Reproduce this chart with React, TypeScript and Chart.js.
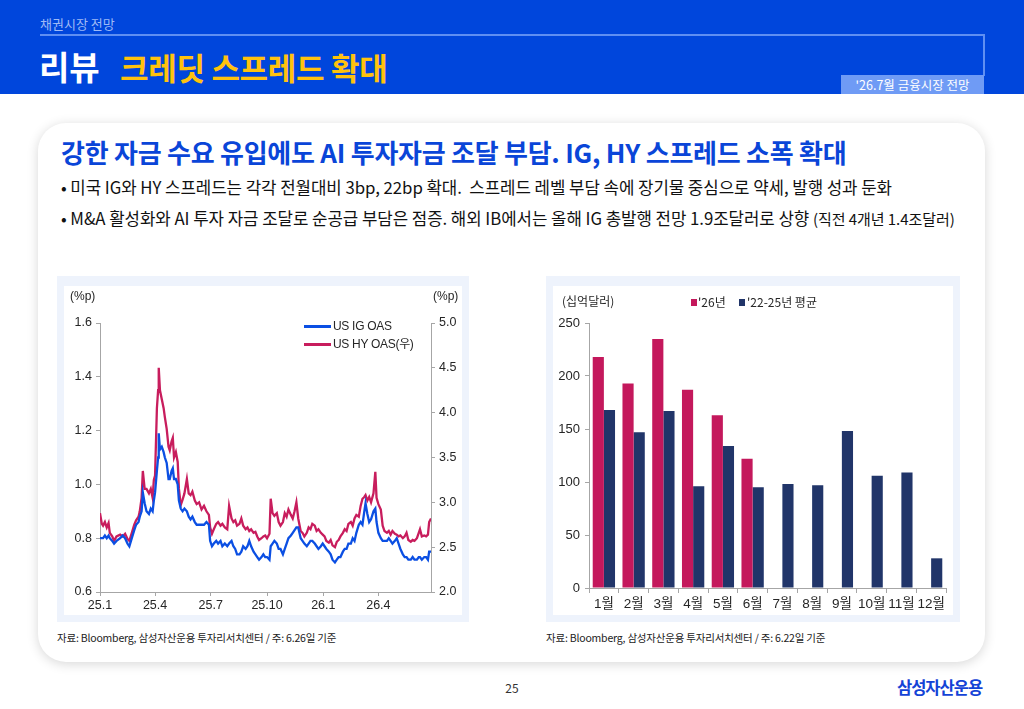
import React, { useEffect, useRef } from "react";
import { Chart, registerables } from "chart.js";

Chart.register(...registerables);

// ---------- Left chart: US IG / HY OAS (days since 2025-01-01) ----------
const SPREAD_DAYS = [
  0, 3, 5, 8, 11, 14, 16, 20, 23, 27,
  33, 37, 41, 45, 48, 52, 56, 59, 63, 65,
  68, 70, 73, 76, 80, 83, 86, 88, 90, 93,
  95, 96, 98, 101, 104, 106, 109, 112, 114, 117,
  119, 121, 124, 127, 129, 132, 135, 138, 142, 145,
  148, 151, 155, 158, 162, 166, 170, 174, 178, 180,
  183, 186, 190, 193, 197, 200, 204, 208, 211, 215,
  218, 221, 224, 228, 231, 234, 238, 241, 244, 247,
  251, 254, 257, 260, 264, 267, 270, 273, 277, 279,
  282, 285, 289, 292, 295, 299, 302, 305, 308, 312,
  315, 318, 321, 324, 328, 331, 334, 338, 341, 344,
  347, 351, 354, 357, 361, 364, 367, 370, 374, 377,
  380, 384, 387, 390, 393, 397, 400, 403, 406, 410,
  413, 416, 419, 423, 426, 429, 432, 434, 437, 440,
  443, 447, 450, 452, 455, 459, 462, 465, 469, 472,
  475, 478, 482, 485, 488, 491, 495, 498, 501, 504,
  508, 511, 514, 518, 521, 523, 526, 530, 533, 536,
  538, 541,
];

const US_IG_OAS = [
  0.80, 0.80, 0.80, 0.81, 0.80, 0.81, 0.80, 0.79, 0.78, 0.79,
  0.80, 0.81, 0.80, 0.78, 0.77, 0.80, 0.83, 0.85, 0.86, 0.88,
  0.90, 0.97, 0.93, 0.90, 0.89, 0.91, 0.90, 0.94, 0.97, 1.05,
  1.10, 1.19, 1.13, 1.14, 1.12, 1.10, 1.08, 1.02, 1.02, 1.05,
  1.06, 1.02, 1.02, 1.00, 0.94, 0.91, 0.90, 0.91, 0.90, 0.88,
  0.87, 0.88, 0.86, 0.85, 0.85, 0.85, 0.85, 0.86, 0.85, 0.79,
  0.77, 0.78, 0.79, 0.78, 0.79, 0.77, 0.78, 0.77, 0.78, 0.79,
  0.77, 0.76, 0.74, 0.74, 0.75, 0.77, 0.76, 0.77, 0.79, 0.77,
  0.75, 0.74, 0.73, 0.72, 0.73, 0.74, 0.73, 0.73, 0.72, 0.77,
  0.78, 0.79, 0.78, 0.76, 0.76, 0.74, 0.76, 0.78, 0.80, 0.81,
  0.82, 0.83, 0.84, 0.84, 0.80, 0.79, 0.78, 0.77, 0.78, 0.79,
  0.79, 0.78, 0.77, 0.76, 0.77, 0.78, 0.77, 0.76, 0.75, 0.74,
  0.72, 0.71, 0.72, 0.73, 0.73, 0.75, 0.76, 0.76, 0.78, 0.78,
  0.80, 0.79, 0.82, 0.85, 0.86, 0.85, 0.90, 0.93, 0.89, 0.86,
  0.87, 0.90, 0.91, 0.86, 0.82, 0.80, 0.79, 0.79, 0.79, 0.80,
  0.79, 0.78, 0.79, 0.80, 0.78, 0.76, 0.74, 0.73, 0.73, 0.72,
  0.72, 0.73, 0.72, 0.72, 0.73, 0.73, 0.72, 0.73, 0.73, 0.72,
  0.75, 0.75,
];

const US_HY_OAS = [
  2.88, 2.76, 2.74, 2.78, 2.72, 2.77, 2.66, 2.62, 2.57, 2.62,
  2.64, 2.62, 2.65, 2.59, 2.57, 2.66, 2.75, 2.80, 2.84, 2.90,
  3.05, 3.35, 3.15, 3.15, 3.10, 3.15, 3.05, 3.25, 3.30, 4.05,
  4.25, 4.50, 4.25, 4.15, 4.05, 3.95, 3.82, 3.62, 3.58, 3.68,
  3.72, 3.50, 3.56, 3.45, 3.15, 2.97, 3.03, 3.10, 3.26, 3.10,
  3.08, 3.12, 3.02, 2.98, 3.00, 2.92, 2.96, 2.90, 2.86, 2.72,
  2.65, 2.70, 2.76, 2.78, 2.74, 2.76, 2.72, 2.70, 2.96, 2.82,
  2.78, 2.80, 2.74, 2.76, 2.82, 2.74, 2.70, 2.72, 2.68, 2.70,
  2.66, 2.67, 2.62, 2.58, 2.60, 2.62, 2.63, 2.60, 2.65, 3.04,
  2.88, 2.85, 2.88, 2.78, 2.74, 2.78, 2.88, 2.84, 2.92, 2.86,
  2.82, 2.90, 3.00, 2.82, 2.68, 2.66, 2.62, 2.66, 2.72, 2.70,
  2.76, 2.74, 2.68, 2.70, 2.66, 2.64, 2.62, 2.57, 2.55, 2.58,
  2.52, 2.50, 2.56, 2.58, 2.62, 2.66, 2.70, 2.68, 2.76, 2.78,
  2.74, 2.82, 2.86, 2.84, 2.96, 3.04, 3.06, 3.08, 3.02, 3.06,
  3.00, 3.10, 3.34, 3.05, 2.98, 2.92, 2.74, 2.68, 2.66, 2.68,
  2.64, 2.68, 2.65, 2.64, 2.62, 2.63, 2.60, 2.62, 2.66, 2.58,
  2.56, 2.58, 2.57, 2.60, 2.66, 2.70, 2.62, 2.63, 2.62, 2.64,
  2.78, 2.82,
];

const SPREAD_TICK_DAYS = [0, 90, 181, 273, 365, 455];
const SPREAD_TICK_LABELS = ["25.1", "25.4", "25.7", "25.10", "26.1", "26.4"];

// ---------- Right chart: IG issuance by month (USD bn) ----------
const MONTHS = ["1월", "2월", "3월", "4월", "5월", "6월", "7월", "8월", "9월", "10월", "11월", "12월"];
const ISSUANCE_2026 = [218, 193, 235, 187, 163, 122, null, null, null, null, null, null];
const ISSUANCE_AVG_22_25 = [168, 147, 167, 96, 134, 95, 98, 97, 148, 106, 109, 28];

const BLUE = "#0b4fe3";
const RED = "#c81d5d";
const BAR_RED = "#c4185c";
const BAR_NAVY = "#213569";
const AXIS = "#a6a6a6";
const TICK_COLOR = "#262626";
const CHART_FONT = "'Liberation Sans', Arial, 'Noto Sans CJK KR', sans-serif";
const KR_FONT = "'Noto Sans CJK KR', 'Noto Sans', sans-serif";

function SpreadChart() {
  const ref = useRef<HTMLCanvasElement | null>(null);
  useEffect(() => {
    if (!ref.current) return;
    const chart = new Chart(ref.current, {
      type: "line",
      data: {
        datasets: [
          {
            label: "US IG OAS",
            data: SPREAD_DAYS.map((d, i) => ({ x: d, y: US_IG_OAS[i] })),
            borderColor: BLUE,
            borderWidth: 2.3,
            pointRadius: 0,
            tension: 0,
            yAxisID: "y",
          },
          {
            label: "US HY OAS(우)",
            data: SPREAD_DAYS.map((d, i) => ({ x: d, y: US_HY_OAS[i] })),
            borderColor: RED,
            borderWidth: 2.3,
            pointRadius: 0,
            tension: 0,
            yAxisID: "y1",
          },
        ],
      },
      options: {
        animation: false,
        responsive: true,
        maintainAspectRatio: false,
        layout: { padding: { top: 37, left: 0, right: 0, bottom: 0 } },
        plugins: { legend: { display: false }, tooltip: { enabled: false } },
        scales: {
          x: {
            type: "linear",
            min: 0,
            max: 541,
            afterBuildTicks: (s: any) => {
              s.ticks = SPREAD_TICK_DAYS.map((v) => ({ value: v }));
            },
            afterFit: (s: any) => {
              s.height = 23;
            },
            ticks: {
              autoSkip: false,
              maxRotation: 0,
              padding: 2,
              color: TICK_COLOR,
              font: { family: CHART_FONT, size: 12.5 },
              callback: (_v: any, i: number) => SPREAD_TICK_LABELS[i],
            },
            grid: { drawOnChartArea: false, drawTicks: true, tickLength: 4, color: AXIS },
            border: { display: true, color: AXIS },
          },
          y: {
            position: "left",
            min: 0.6,
            max: 1.6,
            afterFit: (s: any) => {
              s.width = 36;
            },
            ticks: {
              stepSize: 0.2,
              padding: 4,
              color: TICK_COLOR,
              font: { family: CHART_FONT, size: 12.5 },
              callback: (v: any) => Number(v).toFixed(1),
            },
            grid: { drawOnChartArea: false, drawTicks: true, tickLength: 4, color: AXIS },
            border: { display: true, color: AXIS },
          },
          y1: {
            position: "right",
            min: 2,
            max: 5,
            afterFit: (s: any) => {
              s.width = 31;
            },
            ticks: {
              stepSize: 0.5,
              padding: 4,
              color: TICK_COLOR,
              font: { family: CHART_FONT, size: 12.5 },
              callback: (v: any) => Number(v).toFixed(1),
            },
            grid: { drawOnChartArea: false, drawTicks: true, tickLength: 4, color: AXIS },
            border: { display: true, color: AXIS },
          },
        },
      },
    });
    return () => chart.destroy();
  }, []);
  return <canvas ref={ref} />;
}

function IssuanceChart() {
  const ref = useRef<HTMLCanvasElement | null>(null);
  useEffect(() => {
    if (!ref.current) return;
    const chart = new Chart(ref.current, {
      type: "bar",
      data: {
        labels: MONTHS,
        datasets: [
          {
            label: "'26년",
            data: ISSUANCE_2026,
            backgroundColor: BAR_RED,
            categoryPercentage: 0.75,
            barPercentage: 1.0,
          },
          {
            label: "'22-25년 평균",
            data: ISSUANCE_AVG_22_25,
            backgroundColor: BAR_NAVY,
            categoryPercentage: 0.75,
            barPercentage: 1.0,
          },
        ],
      },
      options: {
        animation: false,
        responsive: true,
        maintainAspectRatio: false,
        layout: { padding: { top: 37, left: 0, right: 7, bottom: 0 } },
        plugins: { legend: { display: false }, tooltip: { enabled: false } },
        scales: {
          x: {
            afterFit: (s: any) => {
              s.height = 27;
            },
            ticks: {
              autoSkip: false,
              maxRotation: 0,
              padding: 3,
              color: TICK_COLOR,
              font: { family: CHART_FONT, size: 13.5 },
            },
            grid: { offset: true, drawOnChartArea: false, drawTicks: true, tickLength: 5, color: AXIS },
            border: { display: true, color: AXIS },
          },
          y: {
            min: 0,
            max: 250,
            afterFit: (s: any) => {
              s.width = 36;
            },
            ticks: {
              stepSize: 50,
              padding: 5,
              color: TICK_COLOR,
              font: { family: CHART_FONT, size: 13 },
            },
            grid: { drawOnChartArea: false, drawTicks: true, tickLength: 4, color: AXIS },
            border: { display: true, color: AXIS },
          },
        },
      },
    });
    return () => chart.destroy();
  }, []);
  return <canvas ref={ref} />;
}

const abs = (left: number, top: number, extra: React.CSSProperties = {}): React.CSSProperties => ({
  position: "absolute",
  left,
  top,
  ...extra,
});

export default function App() {
  return (
    <div
      style={{
        position: "absolute",
        left: 0,
        top: 0,
        width: 1024,
        height: 709,
        overflow: "hidden",
        background: "#ffffff",
        fontFamily: KR_FONT,
      }}
    >
      {/* Header band */}
      <div style={abs(0, 0, { width: 1024, height: 94, background: "#0046dc" })} />
      <div style={abs(40, 14, { fontSize: 13, color: "#9fbaf5", lineHeight: "20px", whiteSpace: "nowrap" })}>
        채권시장 전망
      </div>
      <div style={abs(40, 34, { width: 944, height: 2, background: "#5f8ff2" })} />
      <div style={abs(983, 34, { width: 2, height: 42, background: "#5f8ff2" })} />
      <div
        style={abs(39, 43, {
          fontSize: 33,
          fontWeight: 700,
          color: "#ffffff",
          lineHeight: "46px",
          whiteSpace: "nowrap",
        })}
      >
        리뷰
      </div>
      <div
        style={abs(120, 44, {
          fontSize: 31,
          fontWeight: 700,
          color: "#ffc20e",
          lineHeight: "46px",
          whiteSpace: "nowrap",
          letterSpacing: -0.3,
        })}
      >
        크레딧 스프레드 확대
      </div>
      <div
        style={abs(841, 75, {
          width: 143,
          height: 19,
          background: "#6f9bf5",
          color: "#ffffff",
          fontSize: 12.5,
          lineHeight: "19px",
          textAlign: "center",
          whiteSpace: "nowrap",
        })}
      >
        '26.7월 금융시장 전망
      </div>

      {/* Card */}
      <div
        style={abs(38, 123, {
          width: 947,
          height: 539,
          background: "#ffffff",
          borderRadius: 28,
          boxShadow: "0 2px 12px rgba(0,0,0,0.16)",
        })}
      />
      <div
        style={abs(61, 135, {
          fontSize: 26,
          fontWeight: 700,
          color: "#0a45d8",
          lineHeight: "34px",
          whiteSpace: "nowrap",
          letterSpacing: -0.25,
        })}
      >
        강한 자금 수요 유입에도 AI 투자자금 조달 부담. IG, HY 스프레드 소폭 확대
      </div>
      <div style={abs(61, 176, { fontSize: 16.8, color: "#111", lineHeight: "22px", whiteSpace: "nowrap", letterSpacing: -0.05 })}>
        • 미국 IG와 HY 스프레드는 각각 전월대비 3bp, 22bp 확대.&nbsp; 스프레드 레벨 부담 속에 장기물 중심으로 약세, 발행 성과 둔화
      </div>
      <div style={abs(61, 207, { fontSize: 16.8, color: "#111", lineHeight: "22px", whiteSpace: "nowrap", letterSpacing: -0.05 })}>
        • M&amp;A 활성화와 AI 투자 자금 조달로 순공급 부담은 점증. 해외 IB에서는 올해 IG 총발행 전망 1.9조달러로 상향{" "}
        <span style={{ fontSize: 15 }}>(직전 4개년 1.4조달러)</span>
      </div>

      {/* Left panel */}
      <div style={abs(57, 276, { width: 412, height: 346, background: "#eef3fc" })} />
      <div style={abs(64, 286, { width: 398, height: 329, background: "#ffffff" })} />
      <div style={abs(64, 286, { width: 398, height: 329 })}>
        <SpreadChart />
      </div>
      <div style={abs(70, 288, { fontSize: 12, color: TICK_COLOR, lineHeight: "16px", fontFamily: CHART_FONT })}>(%p)</div>
      <div style={abs(433, 288, { fontSize: 12, color: TICK_COLOR, lineHeight: "16px", fontFamily: CHART_FONT })}>(%p)</div>
      <div style={abs(304, 325, { width: 27, height: 2.5, background: BLUE })} />
      <div
        style={abs(333, 318, {
          fontSize: 12,
          color: TICK_COLOR,
          lineHeight: "16px",
          whiteSpace: "nowrap",
          fontFamily: CHART_FONT,
          letterSpacing: -0.3,
        })}
      >
        US IG OAS
      </div>
      <div style={abs(304, 343, { width: 27, height: 2.5, background: RED })} />
      <div
        style={abs(333, 336, {
          fontSize: 12,
          color: TICK_COLOR,
          lineHeight: "16px",
          whiteSpace: "nowrap",
          fontFamily: CHART_FONT,
          letterSpacing: -0.3,
        })}
      >
        US HY OAS(우)
      </div>

      {/* Right panel */}
      <div style={abs(546, 276, { width: 414, height: 346, background: "#eef3fc" })} />
      <div style={abs(553, 286, { width: 400, height: 329, background: "#ffffff" })} />
      <div style={abs(553, 286, { width: 400, height: 329 })}>
        <IssuanceChart />
      </div>
      <div style={abs(562, 293, { fontSize: 12, color: TICK_COLOR, lineHeight: "16px", whiteSpace: "nowrap" })}>
        (십억달러)
      </div>
      <div style={abs(691, 299, { width: 6, height: 7, background: BAR_RED })} />
      <div style={abs(698, 294, { fontSize: 12, color: TICK_COLOR, lineHeight: "16px", whiteSpace: "nowrap" })}>
        '26년
      </div>
      <div style={abs(739, 299, { width: 6, height: 7, background: BAR_NAVY })} />
      <div style={abs(747, 294, { fontSize: 12, color: TICK_COLOR, lineHeight: "16px", whiteSpace: "nowrap" })}>
        '22-25년 평균
      </div>

      {/* Footnotes */}
      <div style={abs(57, 630, { fontSize: 10.5, color: "#222", lineHeight: "16px", whiteSpace: "nowrap", letterSpacing: -0.2 })}>
        자료: Bloomberg, 삼성자산운용 투자리서치센터 / 주: 6.26일 기준
      </div>
      <div style={abs(546, 630, { fontSize: 10.5, color: "#222", lineHeight: "16px", whiteSpace: "nowrap", letterSpacing: -0.2 })}>
        자료: Bloomberg, 삼성자산운용 투자리서치센터 / 주: 6.22일 기준
      </div>

      {/* Page footer */}
      <div style={abs(500, 680, { width: 24, textAlign: "center", fontSize: 12, color: "#333", lineHeight: "16px" })}>25</div>
      <div
        style={abs(897, 676, {
          fontSize: 16.5,
          fontWeight: 700,
          color: "#1443d6",
          lineHeight: "22px",
          whiteSpace: "nowrap",
          letterSpacing: -1,
        })}
      >
        삼성자산운용
      </div>
    </div>
  );
}
